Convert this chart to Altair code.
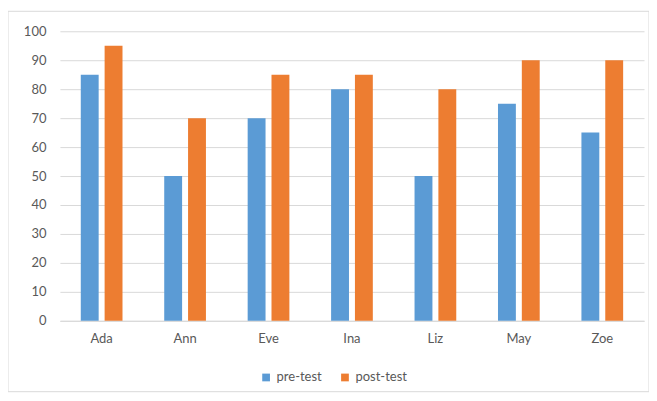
import altair as alt
import pandas as pd

names = ["Ada", "Ann", "Eve", "Ina", "Liz", "May", "Zoe"]
pre_test = [85, 50, 70, 80, 50, 75, 65]
post_test = [95, 70, 85, 85, 80, 90, 90]
series = ["pre-test", "post-test"]
colors = ["#5B9BD5", "#ED7D31"]
y_ticks = [0, 10, 20, 30, 40, 50, 60, 70, 80, 90, 100]

rows = []
for n, a, b in zip(names, pre_test, post_test):
    rows.append({"name": n, "series": series[0], "value": a})
    rows.append({"name": n, "series": series[1], "value": b})
df = pd.DataFrame(rows)

FONT = "Lato"
GRAY = "#595959"

border = alt.Chart(pd.DataFrame({"k": [0]})).mark_rect(
    fill=None, stroke="#D9D9D9", strokeWidth=1
).encode(
    x=alt.value(-52), x2=alt.value(590), y=alt.value(-20), y2=alt.value(361)
)

bars = alt.Chart(df).mark_bar().encode(
    x=alt.X("name:N", sort=names, title=None,
            scale=alt.Scale(paddingInner=0.5, paddingOuter=0.25),
            axis=alt.Axis(labelAngle=0, ticks=False, domainColor="#D9D9D9",
                          labelPadding=12, labelFontSize=13, labelColor=GRAY,
                          labelFont=FONT, grid=False)),
    xOffset=alt.XOffset("series:N", sort=series,
                        scale=alt.Scale(paddingInner=0.25, paddingOuter=0)),
    y=alt.Y("value:Q", title=None,
            scale=alt.Scale(domain=[0, 100], nice=False),
            axis=alt.Axis(values=y_ticks, ticks=False, domain=False,
                          gridColor="#D9D9D9", labelPadding=14,
                          labelFontSize=13, labelColor=GRAY, labelFont=FONT)),
    color=alt.Color("series:N", sort=series,
                    scale=alt.Scale(domain=series, range=colors),
                    legend=alt.Legend(title=None, orient="none", direction="horizontal",
                                      legendX=200, legendY=340, symbolType="square",
                                      symbolSize=60, symbolStrokeWidth=0,
                                      labelFontSize=13, labelColor=GRAY,
                                      labelFont=FONT, columnPadding=16)),
)

chart = alt.layer(border, bars).properties(
    width=585, height=290,
    autosize=alt.AutoSizeParams(type="none"),
    padding={"left": 52, "top": 23, "right": 5, "bottom": 72},
).configure_view(stroke=None)

chart.save("out.html", embed_options={"renderer": "svg", "actions": False})
